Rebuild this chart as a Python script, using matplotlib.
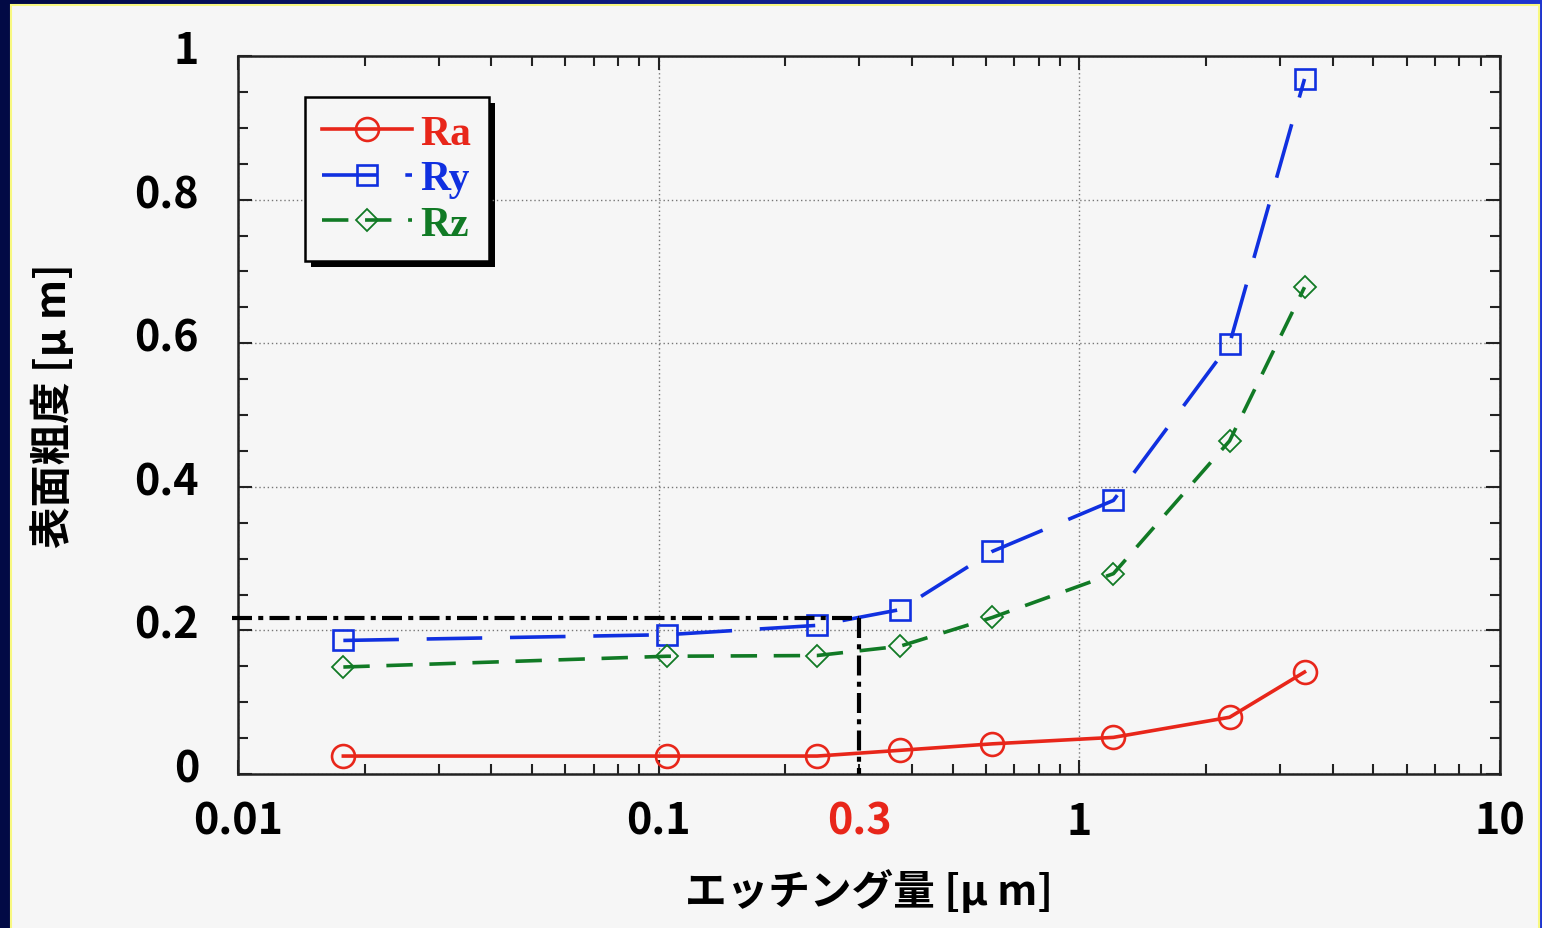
import numpy as np
import matplotlib
matplotlib.use("Agg")
import matplotlib.pyplot as plt
import matplotlib.transforms as mtransforms
from matplotlib.patches import Rectangle
from matplotlib.colors import LinearSegmentedColormap

# data
etch = [0.0178, 0.1045, 0.238, 0.375, 0.621, 1.205, 2.276, 3.43]
ra = [0.025, 0.025, 0.025, 0.033, 0.042, 0.051, 0.079, 0.142]
ry = [0.186, 0.194, 0.207, 0.229, 0.310, 0.381, 0.599, 0.968]
rz = [0.149, 0.164, 0.165, 0.178, 0.218, 0.279, 0.464, 0.678]
ref_x = 0.3
ref_y = 0.217

xticks = [0.01, 0.1, 1, 10]
xticklabels = ["0.01", "0.1", "1", "10"]
yticks = [0, 0.2, 0.4, 0.6, 0.8, 1]
yticklabels = ["0", "0.2", "0.4", "0.6", "0.8", "1"]

RED = "#e8261a"
BLUE = "#1030e0"
GREEN = "#117a25"
BG = "#f6f6f6"

plt.rcParams['font.family'] = ['Noto Sans CJK JP', 'DejaVu Sans']

fig = plt.figure(figsize=(15.42, 9.29), dpi=100)

# slide-like frame: blue gradient behind, light panel with yellow edge
bg = fig.add_axes([0, 0, 1, 1], zorder=-10)
cmap = LinearSegmentedColormap.from_list("frame", ["#020a45", "#1f35d0"])
bg.imshow(np.linspace(0, 1, 256)[None, :], cmap=cmap, aspect="auto",
          extent=[0, 1, 0, 1])
bg.add_patch(Rectangle((11 / 1542, -0.01), 1528 / 1542, 1.01 - 6 / 929,
                       facecolor=BG, edgecolor="#f8f880", lw=1.5))
bg.set_xlim(0, 1)
bg.set_ylim(0, 1)
bg.axis("off")

ax = fig.add_axes([238 / 1542, 154 / 929, 1262 / 1542, 718 / 929])
ax.set_facecolor(BG)
ax.set_xscale("log")
ax.set_xlim(0.01, 10)
ax.set_ylim(0, 1)

lw = 2.6
ax.plot(etch, ra, color=RED, lw=lw, marker="o", ms=16.5, mfc="none",
        mew=1.9, label="Ra")
ax.plot(etch, ry, color=BLUE, lw=lw, marker="s", ms=15, mfc="none",
        mew=1.9, dashes=(40 / lw, 20 / lw), label="Ry")
ax.plot(etch, rz, color=GREEN, lw=lw, marker="D", ms=11, mfc="none",
        mew=1.3, dashes=(19 / lw, 12 / lw), label="Rz")

# reference lines at 0.3 um
dd = (4.8, 1.5, 1.2, 1.5)
ax.plot([0.0097, ref_x], [ref_y, ref_y], color="black", lw=3,
        dashes=dd, clip_on=False, zorder=5)
ax.plot([ref_x, ref_x], [ref_y, 0], color="black", lw=3,
        dashes=dd, zorder=5)

ax.set_xticks(xticks)
ax.set_xticklabels(xticklabels)
ax.set_yticks(yticks)
ax.set_yticklabels(yticklabels)
ax.set_yticks(np.arange(0, 1.0001, 0.05), minor=True)
ax.xaxis.set_minor_locator(matplotlib.ticker.LogLocator(base=10, subs=np.arange(2, 10)))
ax.xaxis.set_minor_formatter(matplotlib.ticker.NullFormatter())
ax.tick_params(which="both", direction="in", top=True, right=True,
               width=1.5, color="#222222")
ax.tick_params(which="major", length=10, labelsize=31)
ax.tick_params(which="minor", length=7)
ax.tick_params(axis="x", pad=18)
ax.tick_params(axis="y", pad=28)
for lab in ax.get_xticklabels() + ax.get_yticklabels():
    lab.set_fontweight("bold")
for sp in ax.spines.values():
    sp.set_linewidth(1.8)
    sp.set_color("#222222")

ax.grid(True, which="major", linestyle=(0, (1, 2)), color="#777777", lw=1)

# y tick labels sit a little higher than their ticks
up = mtransforms.ScaledTranslation(0, 10 / 100, fig.dpi_scale_trans)
for lab in ax.get_yticklabels():
    lab.set_transform(lab.get_transform() + up)

ax.text(ref_x, -25 / 718, "0.3", color=RED, fontsize=31, fontweight="bold",
        ha="center", va="top", transform=ax.get_xaxis_transform())

ax.set_xlabel("エッチング量 [μ m]", fontsize=30, fontweight="bold")
ax.set_ylabel("表面粗度 [μ m]", fontsize=30, fontweight="bold")
ax.xaxis.set_label_coords(0.5, -95 / 718)
ax.yaxis.set_label_coords(-163 / 1262, 0.515)

leg = ax.legend(loc="upper left", bbox_to_anchor=(0.053, 0.943),
                borderaxespad=0, fancybox=False, edgecolor="black",
                facecolor=BG, framealpha=1, handlelength=2.15,
                prop={"family": "Liberation Serif", "weight": "bold", "size": 30},
                labelspacing=0.18, borderpad=0.42, handletextpad=0.2)
leg.get_frame().set_linewidth(1.8)
for txt, c in zip(leg.get_texts(), [RED, BLUE, GREEN]):
    txt.set_color(c)

# hard drop shadow behind the legend box
fig.canvas.draw()
bb = leg.get_window_extent().transformed(fig.transFigure.inverted())
dx, dy = 6 / 1542, 6 / 929
fig.patches.append(Rectangle((bb.x0 + dx, bb.y0 - dy), bb.width, bb.height,
                             transform=fig.transFigure, facecolor="black",
                             edgecolor="none", zorder=1))
ax.set_zorder(2)
ax.patch.set_alpha(0)
leg.set_zorder(10)

fig.savefig("out.png", dpi=100, facecolor=BG)
